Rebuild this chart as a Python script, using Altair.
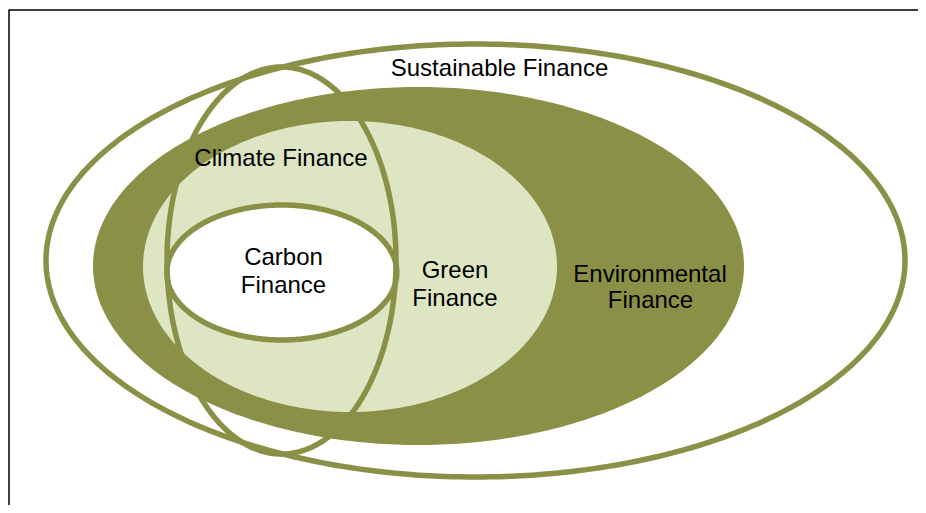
import altair as alt
import pandas as pd

# Ellipses (image pixel coordinates: centre and half-axes)
names = ["Sustainable Finance", "Environmental Finance", "Green Finance", "Carbon Finance", "Climate Finance"]
cx = [475.5, 418.5, 350.0, 281.8, 281.5]
cy = [260.5, 266.0, 266.5, 272.5, 260.5]
rx = [429.5, 325.5, 207.0, 115.0, 114.5]
ry = [216.5, 179.0, 145.5, 67.5, 193.5]

# Labels
label_text = ["Sustainable Finance", "Climate Finance", "Carbon", "Finance", "Green", "Finance", "Environmental", "Finance"]
label_x = [499.5, 281.0, 283.5, 283.5, 455.0, 455.0, 650.0, 650.5]
label_y = [76, 166, 265, 293, 278, 306, 282, 308]

# Frame (top and left edge of the surrounding box)
frame_x = [8.5, 9.0]
frame_x2 = [918, 9.0]
frame_y = [10, 10]
frame_y2 = [10, 505]

angles = list(range(0, 181))

OLIVE = "#8A9147"
LIGHT = "#DDE5C3"

W, H = 910, 497
xs = alt.Scale(domain=[8, 918], nice=False, zero=False)
ys = alt.Scale(domain=[8, 505], nice=False, zero=False, reverse=True)

ell_values = [
    {"name": n, "cx": a, "cy": b, "rx": c, "ry": d, "deg": angles}
    for n, a, b, c, d in zip(names, cx, cy, rx, ry)
]
ell_data = alt.Data(values=ell_values)


def ellipse(name, **mark):
    return (
        alt.Chart(ell_data)
        .transform_filter(alt.datum.name == name)
        .transform_flatten(["deg"])
        .transform_calculate(
            x="datum.cx + datum.rx * cos(datum.deg * PI / 180)",
            ytop="datum.cy - datum.ry * sin(datum.deg * PI / 180)",
            ybot="datum.cy + datum.ry * sin(datum.deg * PI / 180)",
        )
        .mark_area(**mark)
        .encode(
            x=alt.X("x:Q", scale=xs, axis=None),
            y=alt.Y("ytop:Q", scale=ys, axis=None),
            y2="ybot:Q",
        )
    )


sust = ellipse("Sustainable Finance", fill="white", stroke=OLIVE, strokeWidth=5.5)
env = ellipse("Environmental Finance", fill=OLIVE, strokeWidth=0)
green = ellipse("Green Finance", fill=LIGHT, strokeWidth=0)
carbon = ellipse("Carbon Finance", fill="white", stroke=OLIVE, strokeWidth=5.5)
climate = ellipse("Climate Finance", fill="transparent", stroke=OLIVE, strokeWidth=5.5)

frame_df = pd.DataFrame({"x": frame_x, "x2": frame_x2, "y": frame_y, "y2": frame_y2})
frame = alt.Chart(frame_df).mark_rule(color="black", strokeWidth=1.5).encode(
    x=alt.X("x:Q", scale=xs, axis=None),
    x2="x2:Q",
    y=alt.Y("y:Q", scale=ys, axis=None),
    y2="y2:Q",
)

labels_df = pd.DataFrame({"text": label_text, "x": label_x, "y": label_y})
labels = alt.Chart(labels_df).mark_text(
    font="Liberation Sans", fontSize=24, align="center", baseline="alphabetic", color="black"
).encode(
    x=alt.X("x:Q", scale=xs, axis=None),
    y=alt.Y("y:Q", scale=ys, axis=None),
    text="text:N",
)

chart = (
    alt.layer(sust, env, green, carbon, climate, frame, labels)
    .properties(width=W, height=H, autosize=alt.AutoSizeParams(type="none"), padding=0, background="white")
    .configure_view(strokeWidth=0)
)

chart.save("out.html", embed_options={"renderer": "svg", "actions": False})
